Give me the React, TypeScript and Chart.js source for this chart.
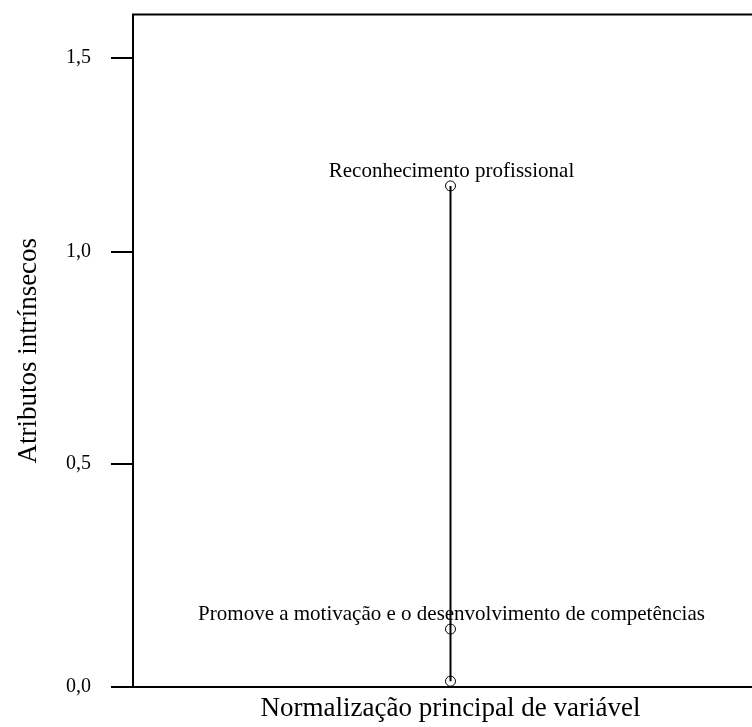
import React, { useEffect, useRef } from 'react';
import { Chart, registerables, LinearScale } from 'chart.js';

// ---- data ----
const variableLabels = [
  'Reconhecimento profissional',
  'Promove a motivação e o desenvolvimento de competências',
  '',
];
const xValues = [0, 0, 0];
const yValues = [1.17, 0.13, 0.013];
const yTickValues = [0, 0.5, 1.0, 1.5];
const yTickLabels = ['0,0', '0,5', '1,0', '1,5'];
const yMin = 0;
const yMax = 1.61;
const xMin = -1;
const xMax = 1;
const xTitle = 'Normalização principal de variável';
const yTitle = 'Atributos intrínsecos';

const FONT = '"Liberation Serif", "Times New Roman", serif';

// Linear scale whose unit spacing varies per segment (as in the source figure)
class PiecewiseScale extends LinearScale {
  static id = 'piecewise';
  static defaults = {};
  _toDecimal(value: number) {
    const bp = (this as any).options.breakpoints as number[][];
    for (let i = 1; i < bp.length; i++) {
      if (value <= bp[i][0] || i === bp.length - 1) {
        const [v0, f0] = bp[i - 1];
        const [v1, f1] = bp[i];
        return f0 + ((value - v0) / (v1 - v0)) * (f1 - f0);
      }
    }
    return 0;
  }
  getPixelForValue(value: any) {
    if (value === null || value === undefined || isNaN(value)) return NaN;
    return (this as any).getPixelForDecimal(this._toDecimal(+value));
  }
  getValueForPixel(pixel: number) {
    const d = (this as any).getDecimalForPixel(pixel);
    const bp = (this as any).options.breakpoints as number[][];
    for (let i = 1; i < bp.length; i++) {
      if (d <= bp[i][1] || i === bp.length - 1) {
        const [v0, f0] = bp[i - 1];
        const [v1, f1] = bp[i];
        return v0 + ((d - f0) / (f1 - f0)) * (v1 - v0);
      }
    }
    return 0;
  }
}

Chart.register(...registerables, PiecewiseScale as any);

const labelPlugin = {
  id: 'pointTextLabels',
  afterDatasetsDraw(chart: any) {
    const meta = chart.getDatasetMeta(0);
    const ctx = chart.ctx;
    ctx.save();
    ctx.font = `21px ${FONT}`;
    ctx.fillStyle = '#000';
    ctx.textAlign = 'center';
    ctx.textBaseline = 'alphabetic';
    meta.data.forEach((pt: any, i: number) => {
      const t = variableLabels[i];
      if (t) ctx.fillText(t, pt.x + 1, pt.y - 9);
    });
    ctx.restore();
  },
};

const framePlugin = {
  id: 'frameTop',
  afterDraw(chart: any) {
    const { ctx, chartArea } = chart;
    ctx.save();
    ctx.fillStyle = '#000';
    ctx.fillRect(chartArea.left - 1, chartArea.top - 1, chartArea.right - chartArea.left + 2, 2);
    ctx.fillRect(chartArea.right - 1, chartArea.top - 1, 2, chartArea.bottom - chartArea.top + 2);
    ctx.restore();
  },
};

export default function App() {
  const ref = useRef<HTMLCanvasElement | null>(null);

  useEffect(() => {
    if (!ref.current) return;
    const chart = new Chart(ref.current, {
      type: 'line',
      data: {
        datasets: [
          {
            data: xValues.map((x, i) => ({ x, y: yValues[i] })),
            showLine: true,
            borderColor: '#000',
            borderWidth: 2,
            pointStyle: 'circle',
            pointRadius: 5,
            pointBorderWidth: 1,
            pointBorderColor: '#000',
            pointBackgroundColor: 'rgba(0,0,0,0)',
            tension: 0,
          },
        ],
      },
      options: {
        responsive: false,
        animation: false,
        devicePixelRatio: 1,
        layout: { padding: { top: 14.5, right: 0, bottom: 0, left: 0 } },
        plugins: {
          legend: { display: false },
          tooltip: { enabled: false },
        },
        scales: {
          x: {
            type: 'linear',
            min: xMin,
            max: xMax,
            ticks: { display: false },
            grid: { display: false, drawTicks: false },
            border: { display: true, color: '#000', width: 2 },
            title: {
              display: true,
              text: xTitle,
              color: '#000',
              font: { family: FONT, size: 27 },
              padding: { top: 0, bottom: 2 },
            },
            afterFit: (s: any) => {
              s.height = 40;
              s.paddingLeft = 0;
              s.paddingRight = 0;
            },
          },
          y: {
            type: 'piecewise' as any,
            min: yMin,
            max: yMax,
            breakpoints: [
              [0, 0],
              [0.5, 0.3313],
              [1.0, 0.6471],
              [1.5, 0.9353],
              [1.61, 1],
            ],
            afterBuildTicks: (s: any) => {
              s.ticks = yTickValues.map((v) => ({ value: v }));
            },
            ticks: {
              color: '#000',
              font: { family: FONT, size: 20 },
              padding: 20,
              callback: (v: any) => {
                const i = yTickValues.indexOf(+v);
                return i >= 0 ? yTickLabels[i] : '';
              },
            },
            grid: {
              drawOnChartArea: false,
              drawTicks: true,
              tickLength: 22,
              color: '#000',
              lineWidth: 2,
            },
            border: { display: true, color: '#000', width: 2 },
            title: {
              display: true,
              text: yTitle,
              color: '#000',
              font: { family: FONT, size: 27 },
              padding: { top: 13, bottom: 0 },
            },
            afterFit: (s: any) => {
              s.width = 133;
              s.paddingTop = 0;
              s.paddingBottom = 0;
            },
          } as any,
        },
      },
      plugins: [labelPlugin, framePlugin],
    } as any);
    return () => chart.destroy();
  }, []);

  return (
    <div
      style={{
        position: 'fixed',
        left: 0,
        top: 0,
        width: 752,
        height: 727,
        overflow: 'hidden',
        background: '#fff',
      }}
    >
      <canvas ref={ref} width={774} height={727} style={{ display: 'block' }} />
    </div>
  );
}
